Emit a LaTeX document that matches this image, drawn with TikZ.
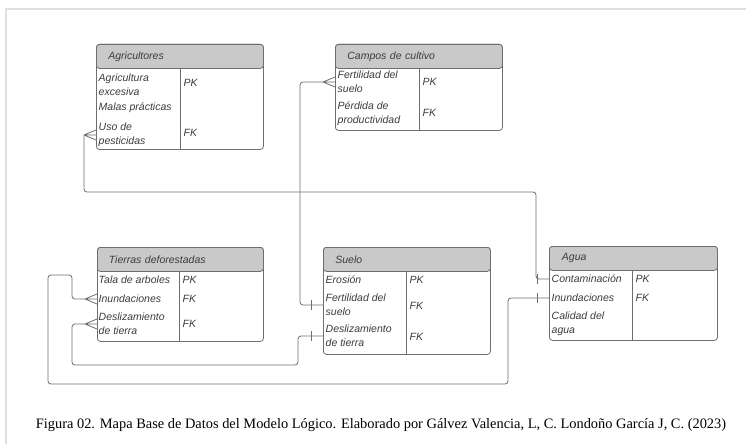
\documentclass[tikz,border=0pt]{standalone}
\usepackage{fontspec}
\setmainfont{Liberation Serif}
\setsansfont{Liberation Sans}
\usetikzlibrary{calc}

\definecolor{linegray}{HTML}{6E6E6E}
\definecolor{headgray}{HTML}{C9C9C9}
\definecolor{textgray}{HTML}{3C3C3C}

\tikzset{
  crow/.pic={\draw[rel] (0,0) -- (12pt,-5pt) (0,0) -- (12pt,0) (0,0) -- (12pt,5pt);},
  onebar/.pic={\draw[rel] (0,-5pt) -- (0,5pt);}
}

\begin{document}
\begin{tikzpicture}[x=1pt, y=-1pt,
    rel/.style = {draw=linegray, line width=0.8pt, rounded corners=3pt},
    tbl/.style = {draw=linegray, line width=0.8pt, fill=white, rounded corners=3pt,
      anchor=north west, inner sep=0pt},
    hdr/.style = {draw=linegray, line width=0.8pt, fill=headgray, rounded corners=3pt,
      anchor=north west, minimum height=24pt, inner sep=0pt, text width=155pt,
      align=left, text=textgray, font=\sffamily\itshape\fontsize{10.5}{13}\selectfont},
    fld/.style = {anchor=west, inner sep=1.5pt, align=left, text=textgray,
      font=\sffamily\itshape\fontsize{10.5}{14}\selectfont}]
  \useasboundingbox (0,0) rectangle (746,444);
  \draw[gray!25, line width=1.5pt] (6,444) -- (6,9) -- (746,9);

  % Agricultores
  \node[tbl, minimum width=167pt, minimum height=105pt] (agr) at (96,44) {};
  \node[hdr, minimum width=167pt] (agrh) at (agr.north west) {\hspace*{6pt}Agricultores};
  \draw[linegray, line width=0.8pt] ([xshift=84pt]agrh.south west) -- ([xshift=84pt]agr.south west);
  \node[fld] (agrexc) at (97,85) {Agricultura\\excesiva};
  \node[fld] (agrmal) at (97,108) {Malas prácticas};
  \node[fld] (agruso) at (97,135) {Uso de\\pesticidas};
  \node[fld] (agrpk) at (182,83) {PK};
  \node[fld] (agrfk) at (182,133) {FK};

  % Campos de cultivo
  \node[tbl, minimum width=167pt, minimum height=86pt] (cam) at (335,44) {};
  \node[hdr, minimum width=167pt] (camh) at (cam.north west) {\hspace*{6pt}Campos de cultivo};
  \draw[linegray, line width=0.8pt] ([xshift=84pt]camh.south west) -- ([xshift=84pt]cam.south west);
  \node[fld] (camfer) at (336,82) {Fertilidad del\\suelo};
  \node[fld] (camper) at (336,114) {Pérdida de\\productividad};
  \node[fld] (campk) at (421,82) {PK};
  \node[fld] (camfk) at (421,113) {FK};

  % Tierras deforestadas
  \node[tbl, minimum width=166pt, minimum height=94pt] (tie) at (97,247) {};
  \node[hdr, minimum width=166pt] (tieh) at (tie.north west) {\hspace*{6pt}Tierras deforestadas};
  \draw[linegray, line width=0.8pt] ([xshift=82pt]tieh.south west) -- ([xshift=82pt]tie.south west);
  \node[fld] (tietal) at (97,280) {Tala de arboles};
  \node[fld] (tieinu) at (97,299) {Inundaciones};
  \node[fld] (tiedes) at (97,324) {Deslizamiento\\de tierra};
  \node[fld] (tiepk) at (181,280) {PK};
  \node[fld] (tiefk) at (181,299) {FK};
  \node[fld] (tiefk2) at (181,324) {FK};

  % Suelo
  \node[tbl, minimum width=167pt, minimum height=107pt] (sue) at (323,247) {};
  \node[hdr, minimum width=167pt] (sueh) at (sue.north west) {\hspace*{6pt}Suelo};
  \draw[linegray, line width=0.8pt] ([xshift=83pt]sueh.south west) -- ([xshift=83pt]sue.south west);
  \node[fld] (sueero) at (324,280) {Erosión};
  \node[fld] (suefer) at (324,305) {Fertilidad del\\suelo};
  \node[fld] (suedes) at (324,336) {Deslizamiento\\de tierra};
  \node[fld] (suepk) at (408,280) {PK};
  \node[fld] (suefk) at (408,306) {FK};
  \node[fld] (suefk2) at (408,337) {FK};

  % Agua
  \node[tbl, minimum width=168pt, minimum height=94pt] (agu) at (549,246) {};
  \node[hdr, minimum width=168pt] (aguh) at (agu.north west) {\hspace*{6pt}Agua};
  \draw[linegray, line width=0.8pt] ([xshift=83pt]aguh.south west) -- ([xshift=83pt]agu.south west);
  \node[fld] (agucon) at (550,279) {Contaminación};
  \node[fld] (aguinu) at (550,298) {Inundaciones};
  \node[fld] (agucal) at (550,324) {Calidad del\\agua};
  \node[fld] (agupk) at (634,279) {PK};
  \node[fld] (agufk) at (634,298) {FK};

  % relaciones
  \draw[rel] (agu.west |- agucon) -| (536,192) -| ([xshift=-12pt]agr.west |- agruso);
  \pic at ([xshift=-12pt]agr.west |- agruso) {crow};
  \pic at ([xshift=-12pt]agu.west |- agucon) {onebar};

  \draw[rel] ([xshift=-12pt]cam.west |- camfer) -| (300,305) -- (sue.west |- suefer);
  \pic at ([xshift=-12pt]cam.west |- camfer) {crow};
  \pic at ([xshift=-12pt]sue.west |- suefer) {onebar};

  \draw[rel] (sue.west |- suedes) -| (298,365) -| (72,324) -- ([xshift=-12pt]tie.west |- tiedes);
  \pic at ([xshift=-12pt]tie.west |- tiedes) {crow};
  \pic at ([xshift=-12pt]sue.west |- suedes) {onebar};

  \draw[rel] (agu.west |- aguinu) -| (508,384) -| (48,275) -| (72,299) -- ([xshift=-12pt]tie.west |- tieinu);
  \pic at ([xshift=-12pt]tie.west |- tieinu) {crow};
  \pic at ([xshift=-12pt]agu.west |- aguinu) {onebar};

  \node[font=\fontsize{14.4}{16}\selectfont] (caption) at (381,425)
    {Figura 02. Mapa Base de Datos del Modelo Lógico. Elaborado por Gálvez Valencia, L, C. Londoño García J, C. (2023)};
\end{tikzpicture}
\end{document}
